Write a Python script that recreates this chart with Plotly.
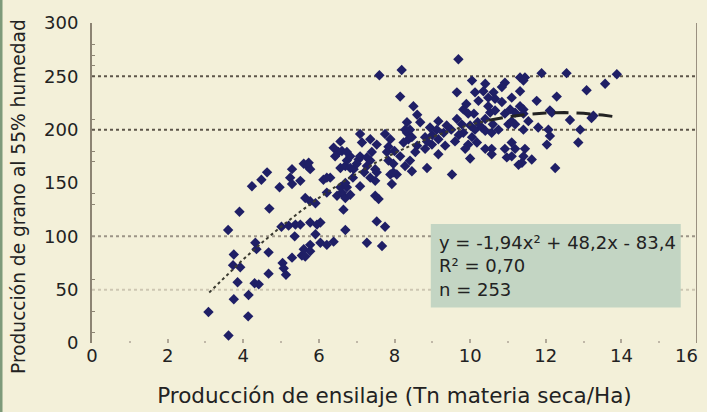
import plotly.graph_objects as go

# Scatter data: silage production (t DM/ha) vs grain production at 55% moisture
silage_x = [3.08, 3.61, 3.75, 4.13, 4.14, 3.85, 4.30, 4.41, 3.73, 3.92, 3.75, 4.67, 4.67, 4.32, 4.35, 3.60, 3.90, 4.69,
            4.23, 4.48, 4.63, 4.96, 5.29, 5.24, 5.29, 5.51, 5.60, 5.01, 5.20, 5.38, 5.36, 5.29, 5.55, 5.04, 5.07, 5.13,
            5.64, 5.70, 5.77, 5.73, 6.12, 6.30, 6.21, 6.57, 6.70, 6.83, 6.74, 6.83, 6.92, 7.05, 7.09, 7.27, 7.36, 7.49,
            7.53, 7.84, 7.97, 8.06, 7.93, 7.89, 7.36, 7.49, 7.09, 5.77, 5.91, 5.64, 6.48, 6.61, 6.70, 6.83, 6.57, 6.74,
            6.65, 7.49, 7.58, 5.51, 5.77, 5.95, 6.04, 5.91, 5.77, 6.04, 6.21, 6.39, 5.60, 5.77, 6.70, 7.27, 7.53, 7.75,
            7.67, 7.60, 8.19, 8.15, 6.57, 7.09, 7.14, 7.36, 7.53, 7.75, 7.89, 7.84, 6.39, 6.52, 6.61, 6.43, 8.33, 8.37,
            7.40, 7.27, 9.69, 10.05, 10.40, 10.92, 10.84, 9.65, 10.13, 10.35, 10.62, 10.48, 10.66, 8.50, 10.22, 10.48,
            10.84, 11.10, 9.82, 9.95, 10.53, 10.66, 10.92, 9.16, 9.65, 9.78, 10.00, 10.13, 10.31, 8.33, 8.68, 8.94,
            9.12, 9.38, 10.40, 10.57, 10.75, 11.01, 11.10, 8.46, 8.81, 8.99, 9.16, 9.34, 9.60, 9.82, 10.05, 10.18,
            9.95, 9.87, 10.40, 10.57, 10.92, 11.10, 8.81, 8.55, 8.41, 8.28, 8.86, 9.16, 9.52, 10.00, 10.57, 10.97,
            11.89, 12.55, 13.88, 11.32, 11.45, 11.41, 13.57, 13.08, 11.32, 11.76, 12.29, 11.32, 11.41, 11.19, 11.41,
            11.06, 12.11, 12.16, 12.64, 13.21, 13.26, 11.19, 11.54, 11.80, 12.07, 12.11, 12.91, 11.41, 12.86, 12.03,
            11.10, 11.19, 11.45, 11.41, 11.37, 11.63, 11.28, 12.25, 7.97, 8.15, 8.24, 8.41, 8.28, 8.46, 7.80, 8.86,
            6.74, 6.21, 6.70, 9.30, 9.50, 9.70, 10.20, 10.40, 9.00, 8.60, 7.00, 7.20, 6.90, 10.10, 10.60, 9.90, 8.00,
            8.60]
grain_y = [29, 7, 41, 25, 45, 57, 56, 55, 73, 71, 83, 65, 85, 94, 88, 106, 123, 126,
           147, 153, 160, 146, 163, 155, 149, 152, 168, 109, 110, 111, 100, 80, 82, 75, 70, 64,
           81, 166, 163, 169, 153, 155, 155, 164, 166, 164, 171, 175, 163, 172, 175, 166, 171, 163,
           160, 171, 168, 158, 149, 158, 155, 152, 147, 133, 131, 136, 138, 141, 136, 139, 146, 146,
           125, 138, 135, 111, 113, 111, 113, 102, 92, 94, 92, 95, 88, 86, 106, 94, 114, 109,
           91, 251, 256, 231, 189, 196, 188, 191, 186, 196, 191, 184, 183, 179, 180, 175, 197, 191,
           179, 174, 266, 246, 243, 244, 240, 235, 235, 236, 235, 230, 229, 222, 227, 222,
           226, 230, 219, 215, 216, 218, 215, 208, 210, 205, 204, 200, 202, 207, 207, 202,
           200, 204, 199, 197, 200, 205, 208, 193, 193, 186, 191, 185, 189, 197, 193, 188,
           186, 182, 182, 182, 182, 175, 182, 179, 171, 166, 164, 177, 158, 173, 177, 174,
           253, 253, 252, 249, 249, 246, 243, 237, 236, 227, 231, 222, 219, 216, 215,
           219, 218, 216, 209, 211, 213, 205, 208, 202, 200, 194, 200, 200, 188, 186,
           188, 182, 182, 175, 169, 172, 167, 164, 160, 175, 188, 200, 200, 161, 179, 189,
           179, 141, 150, 197, 200, 195, 207, 210, 195, 185, 168, 160, 155, 215, 205, 224, 180,
           214]

# Fitted curve y = -1,94x^2 + 48,2x - 83,4
curve_x = [3.1, 3.5, 4, 4.5, 5, 5.5, 6, 6.5, 7, 7.5, 8, 8.5, 9, 9.5, 10, 10.5]
curve_y = [47.4, 61.5, 78.4, 94.2, 109.1, 123.0, 136.0, 147.9, 158.9, 169.0, 178.0, 186.1, 193.3, 199.4, 204.6, 208.8]
curve2_x = [10.5, 11, 11.5, 12, 12.5, 13, 13.5, 13.9]
curve2_y = [208.8, 212.1, 214.3, 215.6, 216.0, 215.3, 213.7, 211.8]

x_ticks = [0, 2, 4, 6, 8, 10, 12, 14]
x_last_tick = 16
y_ticks = [0, 50, 100, 150, 200, 250, 300]
stats_lines = ["y = -1,94x² + 48,2x - 83,4", "R² = 0,70", "n = 253"]
stats_y = [94.5, 72.5, 50]
x_title = "Producción de ensilaje (Tn materia seca/Ha)"
y_title = "Producción de grano al 55% humedad"

FONT = "DejaVu Sans"
BG = "#F3F0D9"
TXT = "#222222"
AX = "#8c8473"

fig = go.Figure()

fig.add_trace(go.Scatter(x=silage_x, y=grain_y, mode="markers",
                         marker=dict(symbol="diamond", size=8, color="#1f1f66",
                                     line=dict(width=0)),
                         hoverinfo="x+y", showlegend=False))
fig.add_trace(go.Scatter(x=curve_x, y=curve_y, mode="lines",
                         line=dict(color="#3a3a30", width=2, dash="dot"),
                         showlegend=False, hoverinfo="skip"))
fig.add_trace(go.Scatter(x=curve2_x, y=curve2_y, mode="lines",
                         line=dict(color="#222222", width=3, dash="14px,8px"),
                         showlegend=False, hoverinfo="skip"))

shapes = []
# horizontal grid lines
for yv, col in [(250, "#5d554a"), (200, "#5d554a"), (100, "#9c9486"), (50, "#cdc6b2")]:
    shapes.append(dict(type="line", xref="x", yref="y", x0=0, x1=16, y0=yv, y1=yv,
                       line=dict(color=col, width=2, dash="dot"), layer="below"))
# right vertical line
shapes.append(dict(type="line", xref="x", yref="y", x0=16, x1=16, y0=0, y1=300,
                   line=dict(color="#9a9080", width=2)))
# stats box
shapes.append(dict(type="rect", xref="x", yref="y", x0=8.96, x1=15.57, y0=33.2, y1=111.6,
                   fillcolor="#C3D5C3", line=dict(width=0), layer="above"))
# left green border of the picture
shapes.append(dict(type="line", xref="paper", yref="paper", x0=-0.1504, x1=-0.1504,
                   y0=-0.22, y1=1.08, line=dict(color="#7d9a7a", width=3)))

annotations = []
for txt, yv in zip(stats_lines, stats_y):
    annotations.append(dict(x=9.12, y=yv, xref="x", yref="y", text=txt, showarrow=False,
                            xanchor="left", yanchor="middle",
                            font=dict(family=FONT, size=18, color=TXT)))
# last x tick label, kept inside the picture edge
annotations.append(dict(x=1.0, y=-0.04, xref="paper", yref="paper", text=str(x_last_tick),
                        showarrow=False, xanchor="center", yanchor="middle", xshift=-11,
                        font=dict(family=FONT, size=18, color=TXT)))
# y axis title
annotations.append(dict(x=-0.1215, y=0.458, xref="paper", yref="paper", text=y_title,
                        showarrow=False, textangle=-90, xanchor="center", yanchor="middle",
                        font=dict(family=FONT, size=18.6, color=TXT)))

fig.update_layout(
    width=707, height=412,
    margin=dict(l=92, r=10, t=23, b=69, autoexpand=False),
    paper_bgcolor=BG, plot_bgcolor=BG,
    shapes=shapes, annotations=annotations,
    showlegend=False,
    xaxis=dict(range=[0, 16], tickvals=x_ticks, ticktext=[str(v) for v in x_ticks],
               automargin=False,
               showgrid=False, zeroline=False, showline=False,
               ticks="inside", ticklen=4, tickwidth=2, tickcolor="#b0a898",
               minor=dict(tickvals=[1, 3, 5, 7, 9, 11, 13, 15], ticks="inside", ticklen=2,
                          tickwidth=2, tickcolor="#c0b8a8"),
               tickfont=dict(family=FONT, size=18, color=TXT),
               title=dict(text=x_title,
                          font=dict(family=FONT, size=21.5, color=TXT), standoff=22)),
    yaxis=dict(range=[0, 300], tickvals=y_ticks, ticktext=[str(v) for v in y_ticks],
               automargin=False,
               showgrid=False, zeroline=False, showline=True, linecolor=AX, linewidth=2,
               ticks="", ticklabelstandoff=8,
               minor=dict(tickvals=[10, 30, 60, 130, 140, 170, 180, 210, 260, 270, 280],
                          ticks="inside", ticklen=3, tickwidth=1, tickcolor=AX),
               tickfont=dict(family=FONT, size=18, color=TXT)),
)

fig.write_html("out.html", config={"displayModeBar": False},
               post_script="document.body.style.margin='0';document.body.style.background='#F3F0D9';")
